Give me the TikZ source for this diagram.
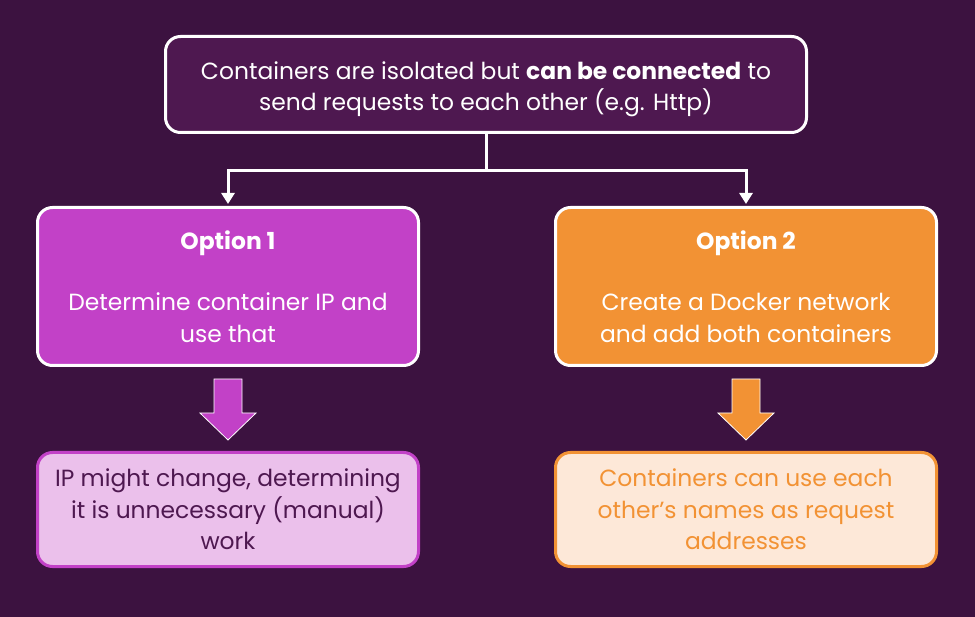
\documentclass[tikz,border=0pt]{standalone}
\usepackage{fontspec}
\setmainfont{Poppins}
\usetikzlibrary{arrows.meta, calc}

\definecolor{bgpurple}{HTML}{3C1240}
\definecolor{toppurple}{HTML}{4E1850}
\definecolor{magenta1}{HTML}{C241C7}
\definecolor{lightpink}{HTML}{EBC0EB}
\definecolor{orange2}{HTML}{F29234}
\definecolor{lightpeach}{HTML}{FDE8D8}

\tikzset{
  box/.style = {draw, line width=3pt, rounded corners=15pt, align=center,
                inner sep=0pt, font=\fontsize{23.4}{31.5}\selectfont},
  topbox/.style = {box, draw=white, fill=toppurple, text=white,
                   minimum width=641pt, minimum height=96pt},
  optbox/.style = {box, draw=white, text=white,
                   minimum width=381pt, minimum height=158pt},
  resbox/.style = {box, minimum width=381pt, minimum height=114pt},
  link/.style = {draw=white, line width=3pt,
                 -{Triangle[width=13pt, length=11pt]}},
  blockarrow/.style = {draw=white, line width=0.8pt}
}

\begin{document}
\begin{tikzpicture}[x=1pt, y=-1pt]
  \fill[bgpurple] (0,0) rectangle (975,617);
  \useasboundingbox (0,0) rectangle (975,617);

  \node[topbox] (top) at (486,84.5)
    {\rule{0pt}{27.5pt}Containers are isolated but \textbf{can be connected} to\\
     send requests to each other (e.g. Http)};
  \node[optbox, fill=magenta1] (opt1) at (228,286.5)
    {\textbf{Option 1}\\[30pt] Determine container IP and\\ use that};
  \node[optbox, fill=orange2] (opt2) at (746,286.5)
    {\textbf{Option 2}\\[30pt] Create a Docker network\\ and add both containers};
  \node[resbox, draw=magenta1, fill=lightpink, text=toppurple] (res1) at (228,509.5)
    {IP might change, determining\\ it is unnecessary (manual)\\ work};
  \node[resbox, draw=orange2, fill=lightpeach, text=orange2] (res2) at (746,509.5)
    {Containers can use each\\ other’s names as request\\ addresses};

  % split connector
  \coordinate (split) at ($(top.south)+(0,37)$);
  \draw[line width=3pt, white] (top.south) -- (split);
  \draw[link] (split) -| ($(opt1.north)+(0,-2)$);
  \draw[link] (split) -| ($(opt2.north)+(0,-2)$);

  % block arrows
  \foreach \opt/\col in {opt1/magenta1, opt2/orange2}{
    \path ($(\opt.south)+(0,12)$) coordinate (a);
    \draw[blockarrow, fill=\col]
      ($(a)+(-14,0)$) -- ($(a)+(14,0)$) -- ($(a)+(14,34)$) -- ($(a)+(28,34)$)
      -- ($(a)+(0,61)$) -- ($(a)+(-28,34)$) -- ($(a)+(-14,34)$) -- cycle;
  }
\end{tikzpicture}
\end{document}
